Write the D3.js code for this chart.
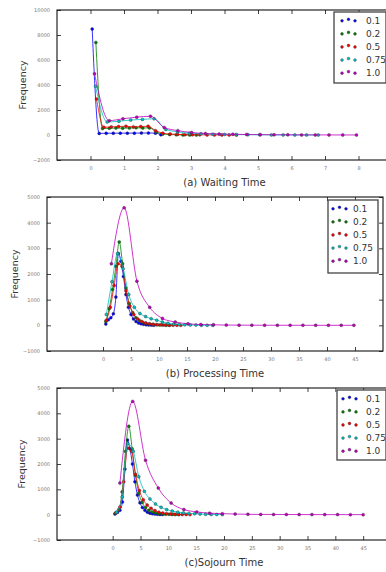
<!DOCTYPE html>
<html>
<head>
<meta charset="utf-8">
<script src="https://cdn.jsdelivr.net/npm/d3@7/dist/d3.min.js"></script>
<style>
  body { margin: 0; background: #fff; }
  svg { display: block; font-family: 'DejaVu Sans', sans-serif; }
</style>
</head>
<body>
<svg></svg>
<script>
let width = 386;
let height = 572;

let legendLabels = ['0.1', '0.2', '0.5', '0.75', '1.0'];
let colors = ['#0000ff', '#008000', '#ff0000', '#00bfbf', '#bf00bf'];

// (a) waiting time
let waitTicksX = [0, 1, 2, 3, 4, 5, 6, 7, 8];
let waitTicksY = [-2000, 0, 2000, 4000, 6000, 8000, 10000];
let wait01 = [[0.05, 8480], [0.26, 130], [0.47, 140], [0.68, 140], [0.89, 150], [1.1, 150], [1.31, 150], [1.52, 160], [1.73, 160], [1.94, 150], [2.1, 20]];
let wait02 = [[0.16, 7400], [0.36, 520], [0.56, 540], [0.76, 560], [0.96, 550], [1.16, 560], [1.36, 580], [1.56, 560], [1.76, 570], [1.96, 250], [2.16, 80], [2.36, 40], [2.56, 20], [2.76, 10], [2.96, 5], [3.16, 3]];
let wait05 = [[0.18, 2880], [0.4, 620], [0.62, 650], [0.84, 680], [1.06, 700], [1.28, 650], [1.5, 680], [1.72, 700], [1.94, 350], [2.16, 150], [2.38, 80], [2.6, 50], [2.82, 30], [3.04, 20], [3.26, 15], [3.48, 10], [3.7, 8], [3.92, 5], [4.14, 3], [4.36, 2]];
let wait075 = [[0.15, 3900], [0.5, 1050], [0.85, 1100], [1.2, 1200], [1.55, 1250], [1.9, 1300], [2.25, 450], [2.6, 250], [2.95, 150], [3.3, 100], [3.65, 70], [4.0, 50], [4.35, 35], [4.7, 25], [5.05, 15], [5.4, 10], [5.75, 6], [6.1, 4], [6.45, 2], [6.8, 1]];
let wait10 = [[0.12, 4900], [0.56, 1150], [0.97, 1300], [1.38, 1430], [1.79, 1500], [2.2, 600], [2.61, 350], [3.02, 200], [3.43, 120], [3.84, 80], [4.25, 60], [4.66, 40], [5.07, 30], [5.48, 20], [5.89, 15], [6.3, 10], [6.71, 8], [7.12, 5], [7.53, 3], [7.94, 2]];

// (b) processing time
let procTicksX = [0, 5, 10, 15, 20, 25, 30, 35, 40, 45];
let procTicksY = [-1000, 0, 1000, 2000, 3000, 4000, 5000];
let proc01 = [[0.5, 50], [0.95, 220], [1.4, 300], [1.85, 450], [2.3, 1100], [2.75, 2800], [3.2, 2500], [3.65, 1900], [4.1, 1200], [4.55, 700], [5.0, 420], [5.45, 250], [5.9, 150], [6.35, 90], [6.8, 60], [7.25, 40], [7.7, 25], [8.15, 15], [8.6, 10], [9.05, 5]];
let proc02 = [[0.5, 150], [1.1, 650], [1.7, 1400], [2.3, 2300], [2.9, 3250], [3.5, 2400], [4.1, 1450], [4.7, 850], [5.3, 500], [5.9, 300], [6.5, 190], [7.1, 120], [7.7, 80], [8.3, 50], [8.9, 35], [9.5, 25], [10.1, 15], [10.7, 10], [11.3, 6], [11.9, 3]];
let proc05 = [[0.6, 200], [1.3, 700], [2.0, 1550], [2.7, 2400], [3.4, 2300], [4.1, 1350], [4.8, 750], [5.5, 420], [6.2, 250], [6.9, 150], [7.6, 95], [8.3, 60], [9.0, 40], [9.7, 25], [10.4, 18], [11.1, 12], [11.8, 8], [12.5, 5], [13.2, 3], [13.9, 2]];
let proc075 = [[0.6, 420], [1.6, 1700], [2.6, 2800], [3.6, 2200], [4.6, 1200], [5.6, 700], [6.6, 460], [7.6, 340], [8.6, 260], [9.6, 200], [10.6, 130], [11.6, 80], [12.6, 50], [13.6, 30], [14.6, 20], [15.6, 15], [16.6, 10], [17.6, 6], [18.6, 4], [19.6, 2]];
let proc10 = [[1.5, 2400], [3.78, 4580], [6.06, 1720], [8.34, 700], [10.62, 270], [12.9, 130], [15.18, 60], [17.46, 30], [19.74, 20], [22.02, 10], [24.3, 8], [26.58, 5], [28.86, 4], [31.14, 3], [33.42, 2], [35.7, 2], [37.98, 1], [40.26, 1], [42.54, 1], [44.8, 1]];

// (c) sojourn time
let sojTicksX = [0, 5, 10, 15, 20, 25, 30, 35, 40, 45];
let sojTicksY = [-1000, 0, 1000, 2000, 3000, 4000, 5000];
let soj01 = [[0.4, 30], [0.85, 90], [1.3, 170], [1.75, 500], [2.2, 1800], [2.65, 2950], [3.1, 2600], [3.55, 2000], [4.0, 1300], [4.45, 780], [4.9, 470], [5.35, 280], [5.8, 170], [6.25, 100], [6.7, 60], [7.15, 40], [7.6, 25], [8.05, 15], [8.5, 10], [8.95, 5]];
let soj02 = [[0.5, 60], [1.1, 200], [1.7, 900], [2.3, 2500], [2.9, 3490], [3.5, 2600], [4.1, 1550], [4.7, 850], [5.3, 480], [5.9, 280], [6.5, 170], [7.1, 110], [7.7, 70], [8.3, 45], [8.9, 30], [9.5, 20], [10.1, 12], [10.7, 8], [11.3, 5], [11.9, 3]];
let soj05 = [[0.6, 80], [1.3, 300], [2.0, 1300], [2.7, 2630], [3.4, 2500], [4.1, 1600], [4.8, 950], [5.5, 590], [6.2, 380], [6.9, 250], [7.6, 160], [8.3, 100], [9.0, 65], [9.7, 40], [10.4, 25], [11.1, 15], [11.8, 10], [12.5, 6], [13.2, 4], [13.9, 2]];
let soj075 = [[0.7, 100], [1.7, 700], [2.7, 2800], [3.7, 2500], [4.7, 1500], [5.7, 920], [6.7, 620], [7.7, 420], [8.7, 290], [9.7, 200], [10.7, 140], [11.7, 100], [12.7, 70], [13.7, 50], [14.7, 35], [15.7, 25], [16.7, 15], [17.7, 10], [18.7, 6], [19.7, 3]];
let soj10 = [[1.3, 1250], [3.6, 4470], [5.9, 2150], [8.2, 1050], [10.5, 460], [12.8, 200], [15.1, 110], [17.4, 60], [19.7, 40], [22.0, 25], [24.3, 15], [26.6, 10], [28.9, 8], [31.2, 6], [33.5, 4], [35.8, 3], [38.1, 2], [40.4, 2], [42.7, 1], [45.0, 1]];

let panels = [
    { title: '(a) Waiting Time', series: [wait01, wait02, wait05, wait075, wait10],
      xDomain: [-1, 9], yDomain: [-2000, 10000], xTicks: waitTicksX, yTicks: waitTicksY,
      left: 57, right: 392, top: 10, bottom: 160, ylabelX: 23, titleY: 186,
      legend: { x: 334, y: 12, w: 52, h: 71, mx: 342, tx: 366 } },
    { title: '(b) Processing Time', series: [proc01, proc02, proc05, proc075, proc10],
      xDomain: [-10, 50], yDomain: [-1000, 5000], xTicks: procTicksX, yTicks: procTicksY,
      left: 47, right: 383, top: 197, bottom: 351, ylabelX: 15, titleY: 377,
      legend: { x: 328, y: 200, w: 50, h: 73, mx: 333, tx: 353 } },
    { title: '(c)Sojourn Time', series: [soj01, soj02, soj05, soj075, soj10],
      xDomain: [-10, 50], yDomain: [-1000, 5000], xTicks: sojTicksX, yTicks: sojTicksY,
      left: 57, right: 391, top: 388, bottom: 540, ylabelX: 22, titleY: 566,
      legend: { x: 337, y: 390, w: 49, h: 70, mx: 343, tx: 366 } }
];

let svg = d3.select('svg')
            .attr('width', width)
            .attr('height', height);

let drawPanel = (p) => {
    let g = svg.append('g');

    let xScale = d3.scaleLinear().domain(p.xDomain).range([p.left, p.right]);
    let yScale = d3.scaleLinear().domain(p.yDomain).range([p.bottom, p.top]);

    // axes, ticks pointing inwards like old matplotlib
    let styleAxis = (sel) => {
        sel.select('.domain').remove();
        sel.selectAll('line').attr('stroke', '#111').attr('stroke-width', 0.8);
        sel.selectAll('text').attr('fill', '#777').style('font-size', '5px')
           .style('font-family', 'DejaVu Sans, sans-serif');
    };

    g.append('g')
     .attr('transform', `translate(0, ${p.bottom})`)
     .call(d3.axisBottom(xScale).tickValues(p.xTicks).tickSize(-4).tickPadding(6).tickFormat(d3.format('d')))
     .call(styleAxis);

    g.append('g')
     .attr('transform', `translate(0, ${p.top})`)
     .call(d3.axisTop(xScale).tickValues(p.xTicks).tickSize(-4).tickFormat(''))
     .call(styleAxis);

    g.append('g')
     .attr('transform', `translate(${p.left}, 0)`)
     .call(d3.axisLeft(yScale).tickValues(p.yTicks).tickSize(-4).tickPadding(7).tickFormat(d3.format('d')))
     .call(styleAxis);

    g.append('g')
     .attr('transform', `translate(${p.right}, 0)`)
     .call(d3.axisRight(yScale).tickValues(p.yTicks).tickSize(-4).tickFormat(''))
     .call(styleAxis);

    g.append('rect')
     .attr('x', p.left)
     .attr('y', p.top)
     .attr('width', p.right - p.left)
     .attr('height', p.bottom - p.top)
     .attr('fill', 'none')
     .attr('stroke', '#111')
     .attr('stroke-width', 1.1);

    let line = d3.line()
                 .x(d => xScale(d[0]))
                 .y(d => yScale(d[1]))
                 .curve(d3.curveMonotoneX);

    p.series.forEach((s, i) => {
        g.append('path')
         .datum(s)
         .attr('d', line)
         .attr('fill', 'none')
         .attr('stroke', colors[i])
         .attr('stroke-width', 0.8);

        g.selectAll(null)
         .data(s)
         .enter()
         .append('circle')
         .attr('cx', d => xScale(d[0]))
         .attr('cy', d => yScale(d[1]))
         .attr('r', 1.5)
         .attr('fill', colors[i])
         .attr('stroke', '#333')
         .attr('stroke-width', 0.4);
    });

    // legend
    let lg = p.legend;
    let legend = g.append('g');
    legend.append('rect')
          .attr('x', lg.x)
          .attr('y', lg.y)
          .attr('width', lg.w)
          .attr('height', lg.h)
          .attr('fill', '#fff')
          .attr('stroke', '#444')
          .attr('stroke-width', 1.3);

    legendLabels.forEach((label, i) => {
        let rowY = lg.y + 8.5 + i * 13.1;
        [0, 1, 2].forEach(k => {
            legend.append('circle')
                  .attr('cx', lg.mx + k * 6.5)
                  .attr('cy', rowY + (k === 1 ? -1.2 : 0.3))
                  .attr('r', 1.4)
                  .attr('fill', colors[i])
                  .attr('stroke', '#333')
                  .attr('stroke-width', 0.4);
        });
        legend.append('text')
              .attr('x', lg.tx)
              .attr('y', rowY)
              .attr('dy', '0.35em')
              .attr('fill', '#333')
              .style('font-size', '9px')
              .text(label);
    });

    // axis titles
    g.append('text')
     .attr('x', (p.left + p.right) / 2)
     .attr('y', p.titleY)
     .attr('text-anchor', 'middle')
     .attr('fill', '#333')
     .style('font-size', '10px')
     .text(p.title);

    g.append('text')
     .attr('transform', `translate(${p.ylabelX}, ${(p.top + p.bottom) / 2}) rotate(-90)`)
     .attr('text-anchor', 'middle')
     .attr('dy', '0.35em')
     .attr('fill', '#333')
     .style('font-size', '9.5px')
     .text('Frequency');
};

panels.forEach(drawPanel);
</script>
</body>
</html>
